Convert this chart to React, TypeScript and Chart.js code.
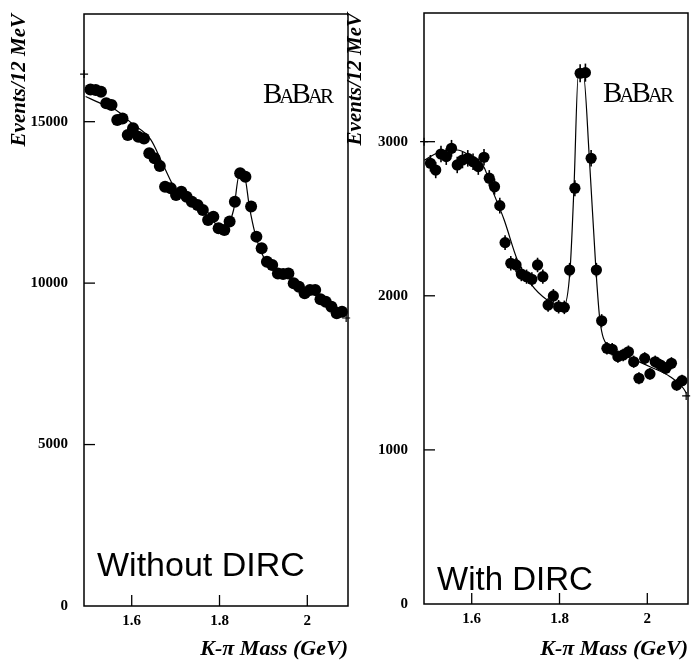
import React, { useEffect, useRef } from "react";
import { Chart, registerables } from "chart.js";

Chart.register(...registerables);

// ---- data ----
const massBins = [
  1.506, 1.518, 1.530, 1.542, 1.554, 1.567, 1.579, 1.591, 1.603, 1.615, 1.628, 1.640,
  1.652, 1.664, 1.676, 1.689, 1.701, 1.713, 1.725, 1.737, 1.750, 1.762, 1.774, 1.786,
  1.798, 1.811, 1.823, 1.835, 1.847, 1.859, 1.872, 1.884, 1.896, 1.908, 1.920, 1.933,
  1.945, 1.957, 1.969, 1.981, 1.994, 2.006, 2.018, 2.030, 2.042, 2.055, 2.067, 2.079,
];

const eventsWithoutDirc = [
  16000, 15980, 15930, 15570, 15515, 15050, 15100, 14590, 14800, 14535, 14480, 14020,
  13865, 13625, 12985, 12935, 12730, 12830, 12675, 12520, 12420, 12265, 11955, 12055,
  11700, 11645, 11905, 12520, 13400, 13295, 12370, 11440, 11080, 10665, 10560, 10300,
  10280, 10300, 9995, 9890, 9685, 9785, 9785, 9500, 9425, 9270, 9065, 9115,
];

const eventsWithDirc = [
  2860, 2816, 2920, 2903, 2957, 2849, 2881, 2892, 2870, 2838, 2899, 2763,
  2708, 2585, 2345, 2211, 2200, 2141, 2124, 2107, 2200, 2124, 1940, 1999,
  1929, 1925, 2167, 2698, 3444, 3448, 2892, 2167, 1838, 1659, 1653, 1605,
  1616, 1637, 1572, 1465, 1594, 1493, 1572, 1551, 1530, 1562, 1421, 1449,
];

const fitMassWithoutDirc = [
  1.495, 1.530, 1.564, 1.600, 1.643, 1.672, 1.700, 1.733, 1.765, 1.790, 1.810,
  1.832, 1.845, 1.857, 1.868, 1.881, 1.900, 1.930, 1.976, 2.029, 2.082, 2.089,
];
const fitWithoutDirc = [
  15780, 15560, 15360, 14950, 14450, 13650, 12900, 12600, 12350, 11850, 11700,
  12265, 13350, 13300, 12370, 11540, 10820, 10405, 9995, 9530, 9115, 9000,
];

const fitMassWithDirc = [
  1.492, 1.520, 1.545, 1.567, 1.590, 1.628, 1.645, 1.674, 1.704, 1.734, 1.772,
  1.809, 1.824, 1.833, 1.843, 1.854, 1.868, 1.883, 1.892, 1.911, 1.953, 2.006,
  2.052, 2.082, 2.089,
];
const fitWithDirc = [
  2880, 2925, 2945, 2946, 2920, 2834, 2700, 2492, 2232, 2081, 1973,
  1929, 2167, 2708, 3444, 3444, 2892, 2167, 1843, 1670, 1605, 1540,
  1475, 1400, 1367,
];

const endMarkMass = [1.4915, 2.0885];
const endMarksWithoutDirc = [16475, 8920];
const endMarksWithDirc = [3000, 1350];

const massTicks = [1.6, 1.8, 2.0];
const ticksWithoutDirc = [0, 5000, 10000, 15000];
const ticksWithDirc = [0, 1000, 2000, 3000];

const SERIF = '"Liberation Serif", "Times New Roman", serif';
const SANS = '"Liberation Sans", Arial, sans-serif';

const decorPlugin = {
  id: "decor",
  afterDatasetsDraw(chart: any, _args: any, opts: any) {
    const { ctx, chartArea: a, scales } = chart;
    const xs = scales.x;
    const ys = scales.y;
    ctx.save();
    // error bars
    if (opts.errorBars) {
      const ds = chart.data.datasets[1].data;
      ctx.strokeStyle = "#000";
      ctx.lineWidth = 1.6;
      ds.forEach((p: any) => {
        const e = Math.sqrt(p.y);
        const px = xs.getPixelForValue(p.x);
        ctx.beginPath();
        ctx.moveTo(px, ys.getPixelForValue(p.y - e));
        ctx.lineTo(px, ys.getPixelForValue(p.y + e));
        ctx.stroke();
      });
    }
    // frame
    ctx.strokeStyle = "#000";
    ctx.lineWidth = 1.5;
    ctx.strokeRect(a.left, a.top, a.right - a.left, a.bottom - a.top);
    // inward ticks
    ctx.lineWidth = 1.3;
    xs.ticks.forEach((t: any) => {
      const px = xs.getPixelForValue(t.value);
      ctx.beginPath();
      ctx.moveTo(px, a.bottom);
      ctx.lineTo(px, a.bottom - 11);
      ctx.stroke();
    });
    ys.ticks.forEach((t: any) => {
      if (t.value === 0) return;
      const py = ys.getPixelForValue(t.value);
      ctx.beginPath();
      ctx.moveTo(a.left, py);
      ctx.lineTo(a.left + 11, py);
      ctx.stroke();
    });
    // BaBar logo
    ctx.fillStyle = "#000";
    ctx.textBaseline = "alphabetic";
    ctx.textAlign = "left";
    const parts: [string, number][] = [["B", 29], ["A", 21], ["B", 29], ["A", 21], ["R", 21]];
    let cx = a.left + 179;
    const by = a.top + opts.logoDy;
    parts.forEach(([ch, sz]) => {
      ctx.font = `${sz}px ${SERIF}`;
      ctx.fillText(ch, cx, by);
      cx += ctx.measureText(ch).width - 3;
    });
    // panel label
    ctx.font = `${opts.labelSize}px ${SANS}`;
    ctx.fillText(opts.label, a.left + 13, a.bottom - opts.labelDy);
    ctx.restore();
  },
};

function makeConfig(p: any) {
  const tickFont = { family: SERIF, weight: "bold" as const, size: 15 };
  return {
    type: "scatter" as const,
    data: {
      datasets: [
        {
          data: p.fitMass.map((m: number, i: number) => ({ x: m, y: p.fit[i] })),
          showLine: true,
          borderColor: "#000",
          borderWidth: 1.2,
          pointRadius: 0,
          cubicInterpolationMode: "monotone" as const,
        },
        {
          data: massBins.map((m, i) => ({ x: m, y: p.values[i] })),
          showLine: false,
          pointRadius: p.radius,
          backgroundColor: "#000",
          borderWidth: 0,
        },
        {
          data: endMarkMass.map((m, i) => ({ x: m, y: p.marks[i] })),
          showLine: false,
          pointStyle: "cross" as const,
          pointRadius: 4,
          borderColor: "#000",
          borderWidth: 1.2,
          clip: false as any,
        },
      ],
    },
    options: {
      animation: false as const,
      responsive: false,
      events: [],
      layout: { autoPadding: false, padding: { top: p.top, right: p.right, left: 0, bottom: 0 } },
      plugins: {
        legend: { display: false },
        tooltip: { enabled: false },
        decor: {
          errorBars: p.errorBars,
          label: p.label,
          labelSize: p.labelSize,
          labelDy: p.labelDy,
          logoDy: p.logoDy,
        },
      },
      scales: {
        x: {
          type: "linear" as const,
          min: 1.4913,
          max: 2.0927,
          grid: { display: false, drawTicks: false },
          border: { display: false },
          afterBuildTicks: (s: any) => {
            s.ticks = massTicks.map((v) => ({ value: v }));
          },
          afterFit: (s: any) => {
            s.height = p.xHeight;
            s.paddingLeft = 0;
            s.paddingRight = 0;
          },
          ticks: {
            color: "#000",
            font: tickFont,
            padding: 6,
            maxRotation: 0,
            autoSkip: false,
            callback: (v: number) => (v === 2 ? "2" : v.toFixed(1)),
          },
          title: {
            display: true,
            text: "K-\u03c0 Mass (GeV)",
            align: "end" as const,
            color: "#000",
            font: { family: SERIF, weight: "bold" as const, style: "italic" as const, size: 22 },
            padding: { top: 0, bottom: 1 },
          },
        },
        y: {
          type: "linear" as const,
          min: 0,
          max: p.yMax,
          grid: { display: false, drawTicks: false },
          border: { display: false },
          afterBuildTicks: (s: any) => {
            s.ticks = p.yTicks.map((v: number) => ({ value: v }));
          },
          afterFit: (s: any) => {
            s.width = 84;
            s.paddingTop = 0;
            s.paddingBottom = 0;
          },
          ticks: {
            color: "#000",
            font: tickFont,
            padding: 16,
            autoSkip: false,
            callback: (v: number) => String(v),
          },
          title: {
            display: true,
            text: "Events/12 MeV",
            align: "end" as const,
            color: "#000",
            font: { family: SERIF, weight: "bold" as const, style: "italic" as const, size: 21 },
            padding: { top: p.yTitlePad, bottom: 0 },
          },
        },
      },
    },
    plugins: [decorPlugin],
  };
}

function Panel(props: { cfg: any; left: number; width: number }) {
  const ref = useRef<HTMLCanvasElement | null>(null);
  useEffect(() => {
    if (!ref.current) return;
    const chart = new Chart(ref.current, makeConfig(props.cfg) as any);
    return () => chart.destroy();
  }, []);
  return (
    <canvas
      ref={ref}
      width={props.width}
      height={664}
      style={{ position: "absolute", left: props.left, top: 0, width: props.width, height: 664 }}
    />
  );
}

const leftCfg = {
  values: eventsWithoutDirc,
  fitMass: fitMassWithoutDirc,
  fit: fitWithoutDirc,
  marks: endMarksWithoutDirc,
  yTicks: ticksWithoutDirc,
  yMax: 18335,
  top: 14,
  right: 4,
  xHeight: 58,
  radius: 6,
  errorBars: false,
  label: "Without DIRC",
  labelSize: 34,
  labelDy: 30,
  logoDy: 89,
  yTitlePad: 7.4,
};

const rightCfg = {
  values: eventsWithDirc,
  fitMass: fitMassWithDirc,
  fit: fitWithDirc,
  marks: endMarksWithDirc,
  yTicks: ticksWithDirc,
  yMax: 3835,
  top: 13,
  right: 7,
  xHeight: 60,
  radius: 5.6,
  errorBars: true,
  label: "With DIRC",
  labelSize: 33,
  labelDy: 14,
  logoDy: 89,
  yTitlePad: 3.4,
};

export default function App() {
  return (
    <div style={{ position: "fixed", left: 0, top: 0, width: 695, height: 664, background: "#fff", overflow: "hidden" }}>
      <Panel cfg={leftCfg} left={0} width={352} />
      <Panel cfg={rightCfg} left={340} width={355} />
    </div>
  );
}
